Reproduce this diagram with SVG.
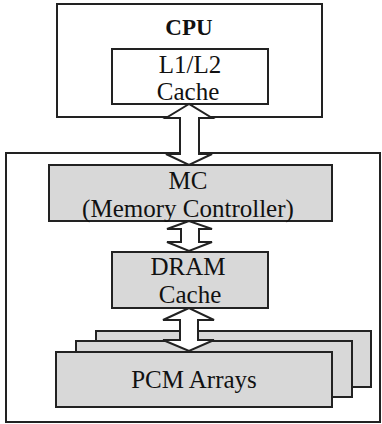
<svg xmlns="http://www.w3.org/2000/svg" width="382" height="424" viewBox="0 0 382 424">
<style>
.box{fill:#fff;stroke:#222;stroke-width:2}
.g{fill:#d8d8d8;stroke:#222;stroke-width:2}
.arr{fill:#fff;stroke:#222;stroke-width:2;stroke-linejoin:miter}
.t{font-family:'Liberation Serif','DejaVu Serif',serif;fill:#111;text-anchor:middle;font-size:25px}
.b{font-family:'Liberation Serif','DejaVu Serif',serif;fill:#111;text-anchor:middle;font-size:23px;font-weight:bold}
</style>
<rect width="382" height="424" fill="#fff"/>
<g id="memory-system"><rect class="box" x="6" y="153" width="374" height="269"/></g>
<g id="cpu">
<rect class="box" x="57" y="4" width="265" height="113"/>
<text class="b" x="189" y="35">CPU</text>
</g>
<g id="l1l2">
<rect class="box" x="112" y="49" width="156" height="55"/>
<text class="t" x="190" y="73" font-size="26">L1/L2</text>
<text class="t" x="188" y="100" font-size="26">Cache</text>
</g>
<g id="mc">
<rect class="g" x="49" y="165" width="283" height="56"/>
<text class="t" x="188" y="189">MC</text>
<text class="t" x="188" y="217">(Memory Controller)</text>
</g>
<g id="dram">
<rect class="g" x="112" y="252" width="156" height="56"/>
<text class="t" x="188" y="275">DRAM</text>
<text class="t" x="190" y="303">Cache</text>
</g>
<g id="pcm">
<rect class="g" x="96" y="331" width="275" height="56"/>
<rect class="g" x="76" y="341" width="276" height="56"/>
<rect class="g" x="56" y="352" width="276" height="55"/>
<text class="t" x="194" y="388">PCM Arrays</text>
</g>
<g id="connectors">
<polygon class="arr" points="189,104 166,118 180,118 180,154 166,154 189,165 212,154 199,154 199,118 212,118"/>
<polygon class="arr" points="189,221 167,229 181,229 181,242 167,242 189,251 212,242 199,242 199,229 212,229"/>
<polygon class="arr" points="189,308 163,320 180,320 180,340 163,340 189,351 214,340 198,340 198,320 214,320"/>
</g>
</svg>
